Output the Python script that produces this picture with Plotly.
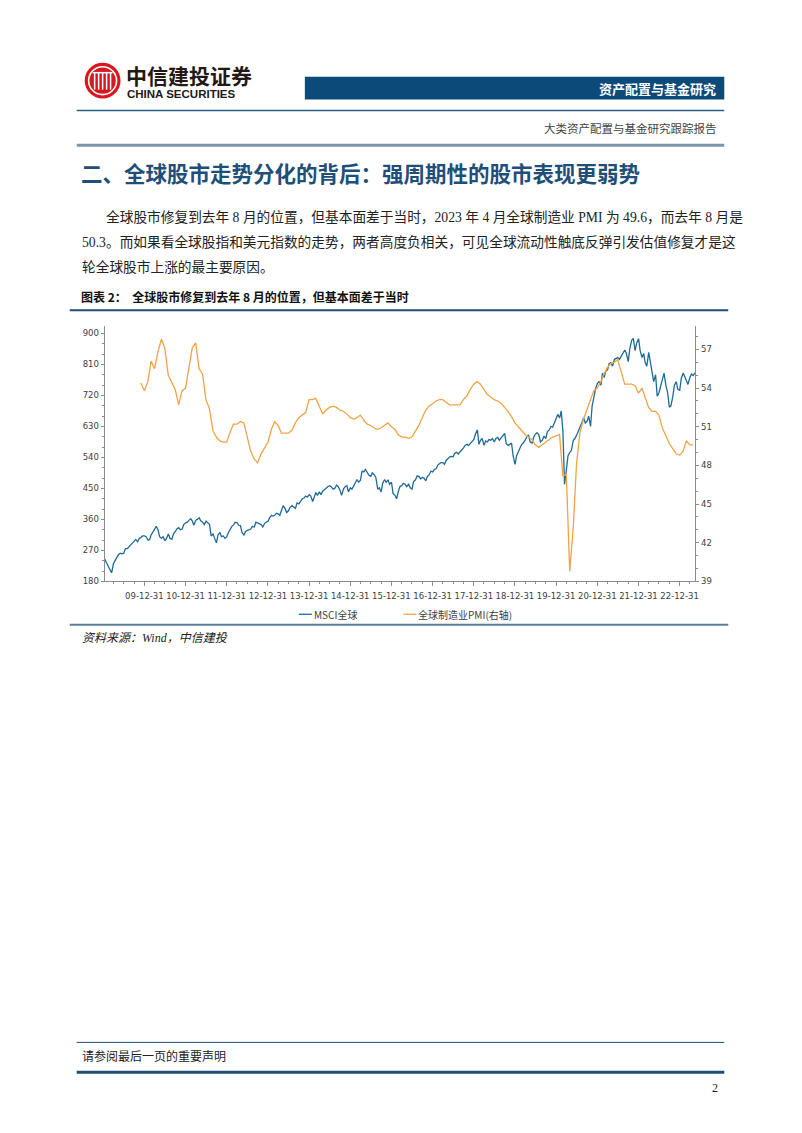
import plotly.graph_objects as go
import pandas as pd

W, H = 802, 1133

# ---------------- data ----------------
# MSCI全球, semi-monthly (1st and 15th of each month), 2009-01-01 .. 2023-05-15
msci_values = [
    # 2009
    248, 244, 232, 222, 210, 205, 232, 240, 252, 258, 262, 260, 262, 275, 275, 280, 288, 292, 296, 302, 295, 305, 308, 312,
    # 2010
    312, 310, 300, 302, 315, 322, 330, 340, 330, 310, 305, 310, 298, 305, 318, 305, 303, 318, 325, 332, 336, 330, 332, 345,
    # 2011
    350, 352, 358, 362, 355, 343, 358, 360, 365, 356, 352, 345, 355, 350, 345, 312, 318, 305, 292, 315, 322, 310, 312, 305,
    # 2012
    310, 322, 332, 340, 344, 352, 350, 343, 342, 322, 315, 325, 328, 330, 332, 340, 338, 352, 350, 348, 345, 338, 348, 352,
    # 2013
    355, 365, 372, 370, 372, 378, 376, 372, 388, 400, 392, 380, 385, 395, 400, 396, 392, 408, 405, 412, 420, 422, 428, 425,
    # 2014
    432, 428, 412, 425, 438, 430, 440, 432, 442, 446, 452, 455, 458, 455, 448, 450, 460, 455, 445, 430, 448, 455, 458, 440,
    # 2015
    452, 448, 458, 470, 476, 468, 474, 500, 498, 505, 495, 488, 485, 495, 490, 482, 448, 452, 440, 465, 476, 468, 475, 462,
    # 2016
    468, 435, 430, 420, 440, 455, 458, 465, 462, 455, 462, 452, 448, 470, 475, 486, 485, 478, 482, 480, 472, 485, 490, 500,
    # 2017
    498, 505, 508, 518, 522, 525, 525, 520, 532, 538, 542, 543, 542, 552, 555, 550, 556, 562, 568, 575, 578, 575, 580, 585,
    # 2018
    592, 608, 620, 578, 590, 595, 575, 588, 585, 592, 590, 595, 585, 595, 598, 590, 598, 605, 610, 580, 575, 578, 582, 545,
    # 2019
    520, 545, 560, 568, 578, 582, 590, 600, 605, 585, 582, 598, 608, 612, 605, 585, 590, 602, 595, 615, 620, 630, 628, 640,
    # 2020
    650, 665, 655, 675, 615, 462, 505, 545, 555, 560, 590, 595, 605, 615, 625, 640, 655, 640, 645, 660, 630, 690, 715, 740,
    # 2021
    755, 760, 750, 785, 772, 790, 795, 812, 815, 805, 825, 828, 830, 825, 835, 845, 852, 842, 818, 855, 880, 886, 850, 872,
    # 2022
    885, 850, 830, 842, 815, 805, 845, 818, 790, 760, 780, 718, 728, 745, 765, 785, 748, 730, 686, 690, 718, 750, 760, 738,
    # 2023
    735, 770, 785, 775, 765, 752, 772, 782, 778, 786,
]
msci_dates = pd.date_range("2009-01-01", periods=len(msci_values), freq="SMS")

# 全球:制造业PMI, monthly, 2009-11 .. 2023-04
pmi_values = [
    54.4, 53.8,
    54.5, 56.1, 55.5, 56.8, 57.8, 57.1, 55.0, 54.5, 53.9, 52.7, 53.8, 54.0,
    55.7, 57.1, 57.5, 55.5, 55.1, 53.1, 52.4, 50.7, 50.2, 49.9, 49.8, 49.8,
    50.6, 51.2, 51.2, 51.4, 51.3, 50.2, 49.1, 48.5, 48.2, 48.9, 49.3, 49.8,
    50.8, 51.4, 51.1, 50.5, 50.5, 50.5, 50.7, 51.3, 51.7, 51.9, 52.1, 53.1,
    53.1, 53.2, 52.6, 52.0, 52.3, 52.5, 52.6, 52.5, 52.3, 52.2, 52.0, 51.7,
    51.6, 51.7, 51.9, 51.5, 51.2, 51.1, 50.9, 50.8, 50.9, 51.1, 51.3, 51.0,
    50.8, 50.4, 50.2, 50.2, 50.1, 50.2, 50.6, 51.1, 51.7, 52.3, 52.6, 52.8,
    53.0, 53.1, 53.1, 52.9, 52.7, 52.7, 52.7, 52.7, 53.1, 53.4, 53.9, 54.3,
    54.5, 54.3, 53.9, 53.5, 53.3, 53.1, 53.0, 52.8, 52.5, 52.2, 51.8, 51.3,
    51.0, 50.7, 50.4, 50.2, 50.0, 49.6, 49.4, 49.6, 49.8, 50.0, 50.2, 50.3,
    50.4, 47.2, 47.3, 39.8, 43.1, 48.2, 50.6, 51.6, 52.3, 53.0, 53.8, 54.0,
    54.5, 55.1, 55.6, 55.9, 56.0, 56.2, 55.2, 54.3, 54.3, 54.3, 54.2, 53.6,
    54.0, 53.2, 52.5, 52.2, 52.2, 51.9, 50.9, 50.3, 49.7, 49.3, 48.9, 48.8,
    49.1, 49.9, 49.6, 49.6,
]
pmi_dates = pd.date_range("2009-11-01", periods=len(pmi_values), freq="MS") + pd.offsets.MonthEnd(1)

x_tick_dates = ["2009-12-31", "2010-12-31", "2011-12-31", "2012-12-31", "2013-12-31",
                "2014-12-31", "2015-12-31", "2016-12-31", "2017-12-31", "2018-12-31",
                "2019-12-31", "2020-12-31", "2021-12-31", "2022-12-31"]
left_ticks = [180, 270, 360, 450, 540, 630, 720, 810, 900]
right_ticks = [39, 42, 45, 48, 51, 54, 57]

series_names = ["MSCI全球", "全球:制造业PMI(右轴)"]
legend_labels = ["MSCI全球", "全球制造业PMI(右轴)"]

# ---------------- helpers ----------------
def px(x):
    return x / W

def py(y):
    return 1 - y / H

BLUE = "#1f6a9a"
ORANGE = "#f0a445"
NAVY = "#1f4e79"
CJK = "Noto Sans CJK SC"
SERIF = "Liberation Serif, Noto Sans CJK SC"

fig = go.Figure()
fig.add_trace(go.Scatter(x=msci_dates, y=msci_values, name=series_names[0], mode="lines",
                         line=dict(color=BLUE, width=1.3), yaxis="y", showlegend=False))
fig.add_trace(go.Scatter(x=pmi_dates, y=pmi_values, name=series_names[1], mode="lines",
                         line=dict(color=ORANGE, width=1.3), yaxis="y2", showlegend=False))

minor_x = pd.date_range("2009-04-01", "2023-04-01", freq="3MS") - pd.Timedelta(days=1)

axis_col = "#8c8c8c"
tick_font = dict(family="DejaVu Sans", size=8.5, color="#404040")

fig.update_layout(
    width=W, height=H, autosize=False,
    margin=dict(l=0, r=0, t=0, b=0),
    paper_bgcolor="white", plot_bgcolor="white",
    xaxis=dict(
        domain=[px(105), px(698)], type="date",
        range=["2009-01-12", "2023-05-20"],
        tickvals=x_tick_dates, tickformat="%y-%m-%d",
        showline=True, linecolor=axis_col, linewidth=1,
        ticks="outside", ticklen=4, tickcolor=axis_col,
        minor=dict(tickvals=list(minor_x), ticks="outside", ticklen=2, tickcolor=axis_col),
        showgrid=False, zeroline=False, tickfont=tick_font, ticklabelstandoff=2,
    ),
    yaxis=dict(
        domain=[py(584), py(327)], range=[180, 923],
        tickvals=left_ticks, showline=True, linecolor=axis_col, linewidth=1,
        ticks="outside", ticklen=3, tickcolor=axis_col,
        minor=dict(dtick=30, tick0=180, ticks="outside", ticklen=2, tickcolor=axis_col),
        showgrid=False, zeroline=False, tickfont=tick_font,
    ),
    yaxis2=dict(
        overlaying="y", side="right", anchor="x", range=[39, 58.85],
        tickvals=right_ticks, showline=True, linecolor=axis_col, linewidth=1,
        ticks="outside", ticklen=3, tickcolor=axis_col,
        minor=dict(dtick=1, tick0=39, ticks="outside", ticklen=2, tickcolor=axis_col),
        showgrid=False, zeroline=False, tickfont=tick_font,
    ),
)

shapes = []
annotations = []

def hline(y, x0, x1, color, width):
    shapes.append(dict(type="line", xref="paper", yref="paper", x0=px(x0), x1=px(x1),
                       y0=py(y), y1=py(y), line=dict(color=color, width=width)))

def rect(x0, y0, x1, y1, color):
    shapes.append(dict(type="rect", xref="paper", yref="paper", x0=px(x0), x1=px(x1),
                       y0=py(y1), y1=py(y0), fillcolor=color, line=dict(width=0)))

def text(x, y, s, size, color="#222222", family=CJK, anchor="left", weight="normal", italic=False):
    annotations.append(dict(x=px(x), y=py(y), xref="paper", yref="paper", text=s, showarrow=False,
                            xanchor=anchor, yanchor="middle",
                            font=dict(size=size, color=color, family=family, weight=weight,
                                      style="italic" if italic else "normal")))

# ---- header: logo ----
cx, cy, r = 103, 81, 18
shapes.append(dict(type="circle", xref="paper", yref="paper", x0=px(cx - r), x1=px(cx + r),
                   y0=py(cy + r), y1=py(cy - r), fillcolor="#d7191f", line=dict(width=0)))
shapes.append(dict(type="circle", xref="paper", yref="paper", x0=px(cx - 14), x1=px(cx + 14),
                   y0=py(cy + 14), y1=py(cy - 14), fillcolor="rgba(0,0,0,0)",
                   line=dict(color="white", width=1.6)))
for dx in (-8, -4, 0, 4, 8):
    shapes.append(dict(type="line", xref="paper", yref="paper", x0=px(cx + dx), x1=px(cx + dx),
                       y0=py(cy + 9), y1=py(cy - 8), line=dict(color="white", width=1.5)))
shapes.append(dict(type="line", xref="paper", yref="paper", x0=px(cx - 10), x1=px(cx + 10),
                   y0=py(cy - 8), y1=py(cy - 8), line=dict(color="white", width=1.5)))
text(124, 75, "中信建投证券", 21, color="#231815", weight="bold")
text(125, 94, "CHINA SECURITIES", 11.5, color="#231815", family="Liberation Sans", weight="bold")

# ---- header bar ----
rect(306, 77, 727, 100, "#0c4a7a")
text(721, 89, "资产配置与基金研究", 13, color="white", anchor="right", weight="bold")
hline(111, 77, 727, "#2c5e88", 1.5)
text(722, 129, "大类资产配置与基金研究跟踪报告", 11.5, color="#444444", anchor="right")
hline(146, 77, 727, "#7d96aa", 3)

# ---- section title and paragraph ----
text(79, 173, "二、全球股市走势分化的背后：强周期性的股市表现更弱势", 21.5, color=NAVY, weight="bold")
text(104, 218, "全球股市修复到去年 8 月的位置，但基本面差于当时，2023 年 4 月全球制造业 PMI 为 49.6，而去年 8 月是",
     13.7, family=SERIF)
text(80, 243, "50.3。而如果看全球股指和美元指数的走势，两者高度负相关，可见全球流动性触底反弹引发估值修复才是这",
     13.7, family=SERIF)
text(80, 268, "轮全球股市上涨的最主要原因。", 13.7, family=SERIF)

# ---- chart caption ----
text(79, 298, "图表 2：  全球股市修复到去年 8 月的位置，但基本面差于当时", 12, color="#111111", weight="bold")
hline(311.5, 70, 731, NAVY, 2)

# ---- legend (drawn) ----
hline(617, 300, 313, BLUE, 1.3)
text(313, 617, legend_labels[0], 10, color="#404040")
hline(617, 405, 418, ORANGE, 1.3)
text(418, 617, legend_labels[1], 10, color="#404040")
hline(627.5, 70, 731, "#5b7f9b", 2)

text(80, 641, "资料来源：Wind，中信建投", 12, color="#222222", family=SERIF, italic=True)

# ---- footer ----
hline(1047, 77, 727, NAVY, 1)
text(80, 1061, "请参阅最后一页的重要声明", 12, color="#222222", family=SERIF)
hline(1077, 77, 727, NAVY, 3)
text(723, 1093, "2", 12, color="#222222", family=SERIF, anchor="right")

fig.update_layout(shapes=shapes, annotations=annotations)
fig.write_html("out.html")
